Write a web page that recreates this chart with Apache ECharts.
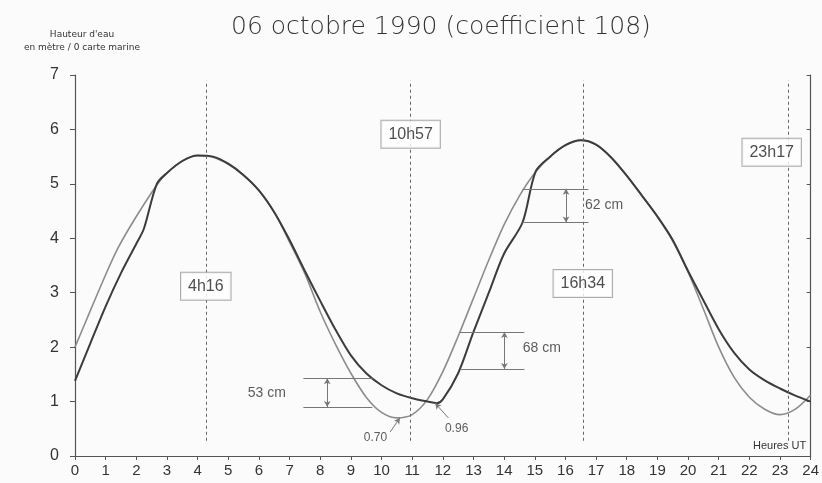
<!DOCTYPE html>
<html>
<head>
<meta charset="utf-8">
<script src="https://cdn.jsdelivr.net/npm/echarts@6/dist/echarts.min.js"></script>
<style>
  html, body { margin: 0; padding: 0; background: #fbfbfb; }
  #chart { width: 822px; height: 483px; }
</style>
</head>
<body>
<div id="chart"></div>
<script>
// marée du 06/10/1990, hauteurs en m au-dessus du 0 des cartes, heures UT
// courbe claire : prédiction lissée
const predHours   = [0, 0.5, 1, 1.4, 2, 2.67, 3, 3.5, 4, 4.5, 5, 5.5, 6, 6.5, 7, 7.5, 8, 8.5, 9, 9.5, 10, 10.5, 11, 11.5, 12, 12.5, 13, 13.5, 14, 14.5, 15, 15.5, 16, 16.5, 17, 17.5, 18, 18.5, 19, 19.5, 20, 20.5, 21, 21.5, 22, 22.5, 23, 23.5, 24]
const predHeights = [2.00, 2.67, 3.33, 3.82, 4.40, 4.98, 5.20, 5.42, 5.52, 5.49, 5.36, 5.16, 4.88, 4.48, 3.93, 3.35, 2.65, 2.05, 1.52, 1.08, 0.80, 0.70, 0.76, 1.04, 1.55, 2.20, 2.90, 3.60, 4.25, 4.78, 5.20, 5.50, 5.71, 5.80, 5.72, 5.48, 5.15, 4.78, 4.40, 3.95, 3.38, 2.70, 2.00, 1.45, 1.08, 0.86, 0.76, 0.86, 1.12]
// courbe foncée : hauteurs observées
const obsHours   = [0, 0.5, 1, 1.5, 2, 2.25, 2.67, 3, 3.5, 4, 4.5, 5, 5.5, 6, 6.5, 7, 7.5, 8, 8.5, 9, 9.5, 10, 10.5, 11, 11.5, 11.8, 12, 12.5, 13, 13.5, 14, 14.6, 15.03, 15.5, 16, 16.5, 17, 17.5, 18, 18.5, 19, 19.5, 20, 20.5, 21, 21.5, 22, 22.5, 23, 23.5, 24]
const obsHeights = [1.38, 2.07, 2.75, 3.36, 3.90, 4.18, 5.00, 5.20, 5.42, 5.52, 5.50, 5.37, 5.16, 4.88, 4.48, 3.97, 3.40, 2.85, 2.32, 1.85, 1.52, 1.30, 1.15, 1.06, 1.00, 0.97, 1.04, 1.52, 2.28, 3.00, 3.72, 4.29, 5.23, 5.50, 5.71, 5.80, 5.72, 5.48, 5.15, 4.78, 4.40, 3.97, 3.40, 2.86, 2.33, 1.90, 1.59, 1.39, 1.24, 1.11, 1.00]

// heures des pleines / basses mers
const tideTimes = ['4h16', '10h57', '16h34', '23h17']
const tideBoxHeights = [3.12, 5.91, 3.17, 5.58]

// écarts entre les deux courbes
const gapLabels = ['53 cm', '68 cm', '62 cm']
const gapHours  = [9.7, 12.56, 14.6]
const gapHigh   = [1.43, 2.28, 4.91]
const gapLow    = [0.90, 1.60, 4.29]

// minima
const minLabels  = ['0.70', '0.96']
const minHours   = [10.6, 11.75]
const minHeights = [0.70, 0.97]

const xTicks = [0, 24, 1]
const yTicks = [0, 7, 1]

// mise en page des annotations (en heures / m, relatif au point)
const gapLayout = [
  { span: [-2.25, 0], arrow: -1.47, text: [-3.44, -0.27] },
  { span: [0, 2.1], arrow: 1.45, text: [2.67, -0.3] },
  { span: [0, 2.15], arrow: 1.42, text: [2.66, -0.3] }
]
const minLayout = [
  { text: [-0.8, -0.37], from: [-0.32, -0.26] },
  { text: [0.7, -0.46], from: [0.43, -0.27] }
]

const toHour = s => { const p = s.split('h'); return +p[0] + p[1] / 60 }
const pairs = (xs, ys) => xs.map((x, i) => [x, ys[i]])

const grey = '#555'
const textFont = 'Liberation Sans'

// lignes verticales pointillées
const tideLines = tideTimes.map(t => [
  { coord: [toHour(t), 0.28], symbol: 'none' },
  { coord: [toHour(t), 6.9], symbol: 'none' }
])

// traits horizontaux + flèches des écarts
let gapLines = []
gapLabels.forEach((g, i) => {
  const L = gapLayout[i]
  const x0 = gapHours[i] + L.span[0], x1 = gapHours[i] + L.span[1]
  gapLines.push([{ coord: [x0, gapHigh[i]], symbol: 'none' }, { coord: [x1, gapHigh[i]], symbol: 'none' }])
  gapLines.push([{ coord: [x0, gapLow[i]], symbol: 'none' }, { coord: [x1, gapLow[i]], symbol: 'none' }])
  const xa = gapHours[i] + L.arrow
  gapLines.push([{ coord: [xa, gapHigh[i]], symbol: 'arrow', symbolSize: [5, 6] }, { coord: [xa, gapLow[i]], symbol: 'arrow', symbolSize: [5, 6] }])
})
minLabels.forEach((m, i) => {
  const L = minLayout[i]
  gapLines.push([
    { coord: [minHours[i] + L.from[0], minHeights[i] + L.from[1]], symbol: 'none' },
    { coord: [minHours[i], minHeights[i]], symbol: 'arrow', symbolSize: [5, 6] }
  ])
})

// textes posés dans le repère
let notes = []
tideTimes.forEach((t, i) => {
  notes.push({
    name: t,
    value: [toHour(t), tideBoxHeights[i]],
    label: {
      fontSize: 16, color: '#222', backgroundColor: '#fff',
      borderColor: '#999', borderWidth: 1, padding: [6, 7, 5, 7],
      offset: [i === 3 ? -17 : 0, 0]
    }
  })
})
gapLabels.forEach((g, i) => {
  const L = gapLayout[i]
  notes.push({ name: g, value: [gapHours[i] + L.text[0], gapHigh[i] + L.text[1]], label: { fontSize: 14 } })
})
minLabels.forEach((m, i) => {
  const L = minLayout[i]
  notes.push({ name: m, value: [minHours[i] + L.text[0], minHeights[i] + L.text[1]], label: { fontSize: 12 } })
})

const chart = echarts.init(document.getElementById('chart'))
chart.setOption({
  backgroundColor: '#fbfbfb',
  animation: false,
  title: {
    text: '06 octobre 1990 (coefficient 108)',
    left: 226, top: 10,
    textStyle: { fontFamily: 'DejaVu Sans', fontWeight: 200, fontSize: 25, color: '#333' }
  },
  grid: { left: 75, right: 4, top: 75, bottom: 27 },
  xAxis: {
    type: 'value', min: xTicks[0], max: xTicks[1], interval: xTicks[2],
    axisLine: { lineStyle: { color: grey, width: 1.2 } },
    axisTick: { length: 4, lineStyle: { color: grey } },
    axisLabel: { fontFamily: textFont, fontSize: 15, color: '#333', margin: 7 },
    splitLine: { show: false }
  },
  yAxis: [{
    type: 'value', min: yTicks[0], max: yTicks[1], interval: yTicks[2],
    name: "Hauteur d'eau\nen mètre / 0 carte marine",
    nameLocation: 'end', nameGap: 21,
    nameTextStyle: { fontFamily: 'DejaVu Sans', fontSize: 9, lineHeight: 13, color: '#333', align: 'center', padding: [0, 0, 0, 14] },
    axisLine: { show: true, lineStyle: { color: grey, width: 1.2 } },
    axisTick: { show: true, length: 5, lineStyle: { color: grey } },
    axisLabel: { fontFamily: textFont, fontSize: 16, color: '#333', margin: 16 },
    splitLine: { show: false }
  }, {
    type: 'value', min: yTicks[0], max: yTicks[1], interval: yTicks[2], position: 'right',
    axisLine: { show: true, lineStyle: { color: grey, width: 1.2 } },
    axisTick: { show: true, inside: true, length: 4, lineStyle: { color: grey } },
    axisLabel: { show: false },
    splitLine: { show: false }
  }],
  series: [{
    name: 'prévision',
    type: 'line',
    data: pairs(predHours, predHeights),
    smooth: 0.3,
    showSymbol: false,
    lineStyle: { color: '#8c8c8c', width: 1.6 },
    markLine: {
      silent: true, symbol: 'none', label: { show: false },
      lineStyle: { color: '#666', width: 1, type: [3, 3] },
      data: tideLines
    },
    z: 3
  }, {
    name: 'observation',
    type: 'line',
    data: pairs(obsHours, obsHeights),
    smooth: 0.3,
    showSymbol: false,
    lineStyle: { color: '#3c3c3c', width: 2 },
    markLine: {
      silent: true, label: { show: false },
      lineStyle: { color: '#777', width: 1, type: 'solid' },
      data: gapLines
    },
    z: 4
  }, {
    name: 'repères',
    type: 'scatter',
    symbolSize: 0,
    data: notes,
    label: { show: true, position: 'inside', formatter: '{b}', fontFamily: textFont, color: '#333' },
    z: 10
  }],
  graphic: [{
    type: 'text', left: 753, top: 440,
    style: { text: 'Heures UT', font: '11px "Liberation Sans"', fill: '#333' }
  }]
})
</script>
</body>
</html>
